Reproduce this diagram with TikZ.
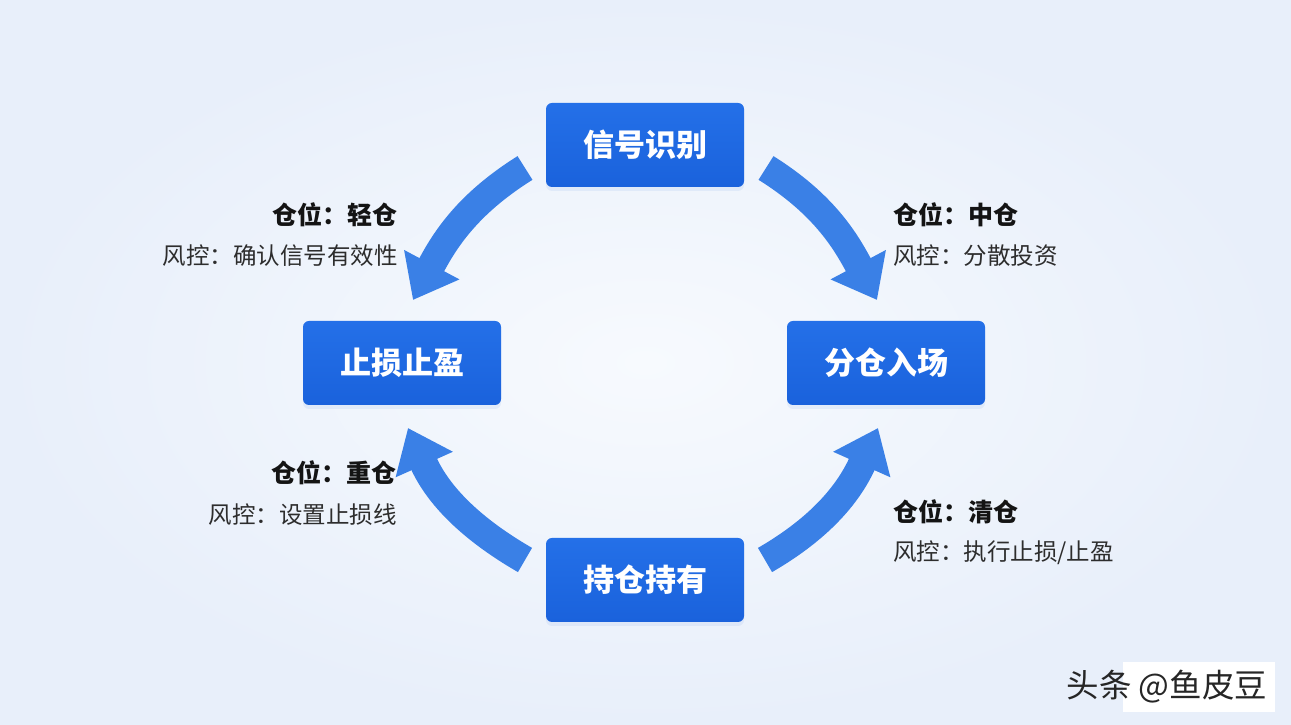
\documentclass[tikz,border=0pt]{standalone}
\usepackage{fontspec}
\newfontfamily\cjk{Noto Sans CJK SC}
\usetikzlibrary{arrows.meta,shadows}
\definecolor{bgin}{RGB}{247,250,254}
\definecolor{bgout}{RGB}{232,239,250}
\definecolor{boxtop}{RGB}{36,112,232}
\definecolor{boxbot}{RGB}{26,98,220}
\definecolor{arrowblue}{RGB}{58,128,230}
\definecolor{labeldark}{RGB}{20,20,20}
\definecolor{labelgray}{RGB}{45,45,45}
\tikzset{
  stagebox/.style={rounded corners=6pt, minimum width=198pt, minimum height=84pt,
    top color=boxtop, bottom color=boxbot, draw=none, text=white,
    font=\cjk\bfseries\fontsize{31}{31}\selectfont,
    drop shadow={opacity=0.07, shadow xshift=0pt, shadow yshift=-4pt, fill=boxbot}},
  headlabel/.style={inner sep=0pt, text=labeldark, font=\cjk\bfseries\fontsize{25}{26}\selectfont},
  notelabel/.style={inner sep=0pt, text=labelgray, font=\cjk\fontsize{23.5}{25}\selectfont},
  cyclearrow/.style={draw=arrowblue, line width=28pt, line cap=butt,
    -{Triangle[width=60pt, length=40pt, fill=arrowblue]}},
}
\begin{document}
\begin{tikzpicture}[x=1pt, y=1pt]
  \useasboundingbox (0,0) rectangle (1291,725);
  \shade[inner color=bgin, outer color=bgout] (0,0) rectangle (1291,725);

  % stages
  \node[stagebox] (signal) at (645,580) {信号识别};
  \node[stagebox] (stop)   at (402,362) {止损止盈};
  \node[stagebox] (entry)  at (886,362) {分仓入场};
  \node[stagebox] (hold)   at (645,145) {持仓持有};

  % arrow end points
  \coordinate (a1s) at (525,557); \coordinate (a1e) at (413,425);
  \coordinate (a2s) at (766,557); \coordinate (a2e) at (877,425);
  \coordinate (a3s) at (525,165); \coordinate (a3e) at (408,297);
  \coordinate (a4s) at (765,165); \coordinate (a4e) at (878,297);

  \draw[cyclearrow] (a1s) to[out=212, in=62] (a1e);
  \draw[cyclearrow] (a2s) to[out=-32, in=118] (a2e);
  \draw[cyclearrow] (a3s) to[out=150, in=-66] (a3e);
  \draw[cyclearrow] (a4s) to[out=30, in=246] (a4e);

  % labels
  \node[headlabel, anchor=east] (l1h) at (398,510) {仓位：轻仓};
  \node[notelabel, anchor=east] (l1n) at (398,469) {风控：确认信号有效性};
  \node[headlabel, anchor=west] (r1h) at (893,510) {仓位：中仓};
  \node[notelabel, anchor=west] (r1n) at (893,469) {风控：分散投资};
  \node[headlabel, anchor=east] (l2h) at (397,252) {仓位：重仓};
  \node[notelabel, anchor=east] (l2n) at (397,210) {风控：设置止损线};
  \node[headlabel, anchor=west] (r2h) at (893,213) {仓位：清仓};
  \node[notelabel, anchor=west] (r2n) at (893,172) {风控：执行止损/止盈};

  % watermark
  \fill[white] (1123,13) rectangle (1275,63);
  \node[inner sep=0pt, text=black!85, font=\cjk\fontsize{32.5}{33}\selectfont] (wm) at (1167,38) {头条 @鱼皮豆};
\end{tikzpicture}
\end{document}
